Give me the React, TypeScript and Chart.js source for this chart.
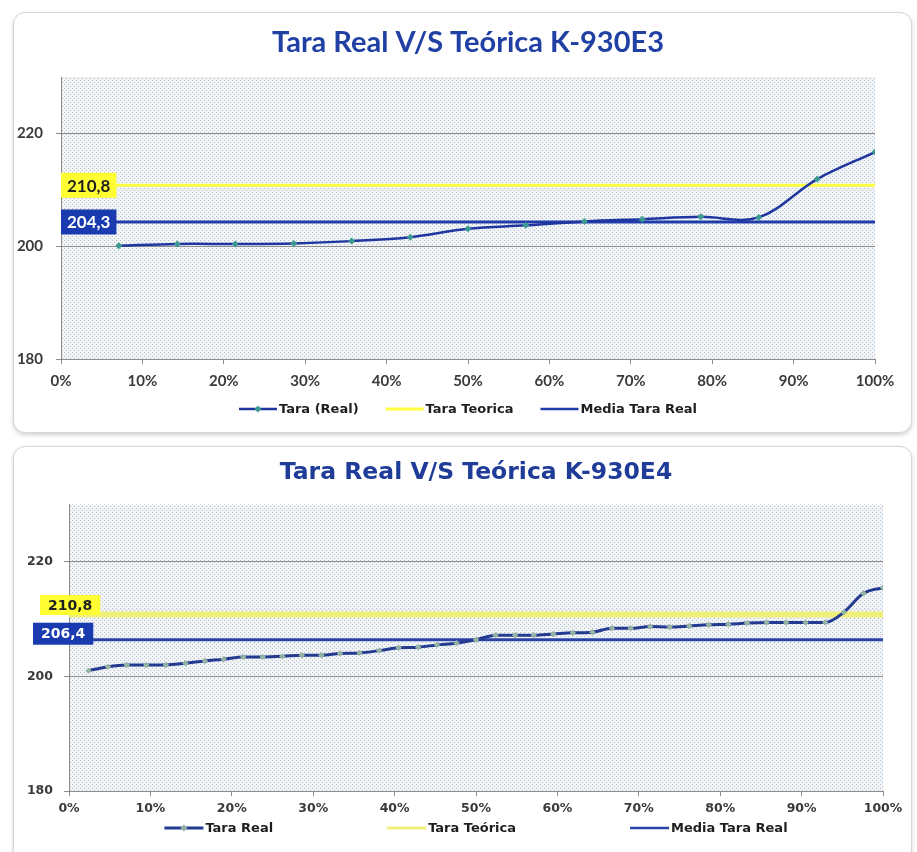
import React, { useEffect, useRef } from 'react';
import { Chart, registerables } from 'chart.js';

Chart.register(...registerables);

// ---------------- DATA ----------------
// K-930E3
const pctE3 = [7.1, 14.3, 21.4, 28.6, 35.7, 42.9, 50.0, 57.1, 64.3, 71.4, 78.6, 85.7, 92.9, 100];
const taraE3 = [200.1, 200.4, 200.4, 200.5, 200.9, 201.6, 203.1, 203.7, 204.4, 204.8, 205.2, 205.1, 211.9, 216.7];
const teoricaE3 = 210.8;
const mediaE3 = 204.3;

// K-930E4
const pctE4 = [
  2.4, 4.8, 7.1, 9.5, 11.9, 14.3, 16.7, 19.0, 21.4, 23.8, 26.2, 28.6, 31.0, 33.3,
  35.7, 38.1, 40.5, 42.9, 45.2, 47.6, 50.0, 52.4, 54.8, 57.1, 59.5, 61.9, 64.3, 66.7,
  69.0, 71.4, 73.8, 76.2, 78.6, 81.0, 83.3, 85.7, 88.1, 90.5, 92.9, 95.2, 97.6, 100,
];
const taraE4 = [
  201.0, 201.7, 202.0, 202.0, 202.0, 202.3, 202.7, 203.0, 203.4, 203.4, 203.5, 203.7, 203.7, 204.0,
  204.1, 204.5, 205.0, 205.1, 205.5, 205.8, 206.4, 207.2, 207.2, 207.2, 207.4, 207.6, 207.7, 208.4,
  208.4, 208.7, 208.6, 208.8, 209.0, 209.1, 209.3, 209.4, 209.4, 209.4, 209.4, 211.2, 214.5, 215.5,
];
const teoricaE4 = 210.8;
const mediaE4 = 206.4;

const xMin = 0;
const xMax = 100;
const xStep = 10;
const yMin = 180;
const yMax = 230;
const yTicks = [180, 200, 220];

const titleE3 = 'Tara Real V/S Teórica K-930E3';
const titleE4 = 'Tara Real V/S Teórica K-930E4';
const legendE3 = ['Tara (Real)', 'Tara Teorica', 'Media Tara Real'];
const legendE4 = ['Tara Real', 'Tara Teórica', 'Media Tara Real'];

// ---------------- PLUGINS ----------------
function makePattern(ctx: CanvasRenderingContext2D) {
  const c = document.createElement('canvas');
  c.width = 4;
  c.height = 4;
  const g = c.getContext('2d')!;
  g.fillStyle = '#f1f4f6';
  g.fillRect(0, 0, 4, 4);
  g.fillStyle = '#b4bfca';
  g.fillRect(0, 0, 1, 1);
  g.fillRect(2, 2, 1, 1);
  return ctx.createPattern(c, 'repeat');
}

const bgPlugin = {
  id: 'plotBg',
  beforeDraw(chart: any, _a: any, opts: any) {
    const { ctx, chartArea } = chart;
    if (!opts.pattern) return;
    ctx.save();
    ctx.fillStyle = opts.pattern;
    ctx.fillRect(chartArea.left, chartArea.top, chartArea.right - chartArea.left, chartArea.bottom - chartArea.top);
    ctx.restore();
  },
};

const valueBoxPlugin = {
  id: 'valueBox',
  afterDatasetsDraw(chart: any) {
    const ctx = chart.ctx;
    chart.data.datasets.forEach((ds: any, i: number) => {
      const b = ds.valueBox;
      if (!b) return;
      const p = chart.getDatasetMeta(i).data[0];
      if (!p) return;
      const text = ds.data[0].y.toFixed(1).replace('.', ',');
      ctx.save();
      ctx.font = b.font;
      const tw = ctx.measureText(text).width;
      const w = tw + b.padX * 2;
      const h = b.height;
      const x = p.x + b.dx;
      const y = p.y + b.dy - h / 2;
      ctx.fillStyle = b.bg;
      ctx.fillRect(x, y, w, h);
      ctx.fillStyle = b.color;
      ctx.textAlign = 'left';
      ctx.textBaseline = 'middle';
      ctx.fillText(text, x + b.padX, y + h / 2 + 1);
      ctx.restore();
    });
  },
};

const legendPlugin = {
  id: 'excelLegend',
  afterDraw(chart: any, _a: any, opts: any) {
    const { ctx, chartArea } = chart;
    ctx.save();
    ctx.font = opts.font;
    ctx.textBaseline = 'middle';
    ctx.textAlign = 'left';
    const items = chart.data.datasets.map((ds: any) => ({
      text: ds.label,
      color: ds.borderColor,
      width: ds.legendWidth ?? ds.borderWidth,
      marker: ds.pointRadius > 0 ? ds.pointBackgroundColor : null,
    }));
    const widths = items.map((it: any) => opts.sample + opts.textGap + ctx.measureText(it.text).width);
    const total = widths.reduce((a: number, b: number) => a + b, 0) + opts.gap * (items.length - 1);
    let x = (chartArea.left + chartArea.right) / 2 - total / 2;
    const y = chartArea.bottom + opts.offsetY;
    items.forEach((it: any, i: number) => {
      ctx.strokeStyle = it.color;
      ctx.lineWidth = it.width;
      ctx.beginPath();
      ctx.moveTo(x, y);
      ctx.lineTo(x + opts.sample, y);
      ctx.stroke();
      if (it.marker) {
        const cx = x + opts.sample / 2;
        const r = 3.5;
        ctx.fillStyle = it.marker;
        ctx.beginPath();
        ctx.moveTo(cx, y - r);
        ctx.lineTo(cx + r, y);
        ctx.lineTo(cx, y + r);
        ctx.lineTo(cx - r, y);
        ctx.closePath();
        ctx.fill();
      }
      ctx.fillStyle = opts.color;
      ctx.fillText(it.text, x + opts.sample + opts.textGap, y + 1);
      x += widths[i] + opts.gap;
    });
    ctx.restore();
  },
};

// ---------------- CHART ----------------
type Spec = {
  width: number;
  height: number;
  title: string;
  titleFont: any;
  titleColor: string;
  titlePad: { top: number; bottom: number };
  pct: number[];
  tara: number[];
  teorica: number;
  media: number;
  labels: string[];
  tickFont: any;
  tickColor: string;
  yAxisWidth: number;
  yTickPad: number;
  xAxisHeight: number;
  xTickPad: number;
  padRight: number;
  padBottom: number;
  realColor: string;
  realWidth: number;
  markerColor: string;
  markerRadius: number;
  tension: number;
  monotone: boolean;
  yellow: string;
  yellowWidth: number;
  blue: string;
  blueWidth: number;
  yellowBox: any;
  blueBox: any;
  legend: any;
};

function TaraChart({ spec, left, top }: { spec: Spec; left: number; top: number }) {
  const ref = useRef<HTMLCanvasElement>(null);
  useEffect(() => {
    const canvas = ref.current!;
    const ctx = canvas.getContext('2d')!;
    const pattern = makePattern(ctx);
    const chart = new Chart(canvas, {
      type: 'line',
      data: {
        datasets: [
          {
            label: spec.labels[0],
            data: spec.pct.map((x, i) => ({ x, y: spec.tara[i] })),
            borderColor: spec.realColor,
            borderWidth: spec.realWidth,
            pointStyle: 'rectRot',
            pointRadius: spec.markerRadius,
            pointBackgroundColor: spec.markerColor,
            pointBorderColor: spec.markerColor,
            pointBorderWidth: 0,
            tension: spec.tension,
            cubicInterpolationMode: spec.monotone ? 'monotone' : 'default',
            fill: false,
          },
          {
            label: spec.labels[1],
            data: [
              { x: xMin, y: spec.teorica },
              { x: xMax, y: spec.teorica },
            ],
            borderColor: spec.yellow,
            borderWidth: spec.yellowWidth,
            legendWidth: 3,
            pointRadius: 0,
            fill: false,
            valueBox: spec.yellowBox,
          } as any,
          {
            label: spec.labels[2],
            data: [
              { x: xMin, y: spec.media },
              { x: xMax, y: spec.media },
            ],
            borderColor: spec.blue,
            borderWidth: spec.blueWidth,
            legendWidth: 2.5,
            pointRadius: 0,
            fill: false,
            valueBox: spec.blueBox,
          } as any,
        ],
      },
      options: {
        responsive: false,
        maintainAspectRatio: false,
        animation: false,
        devicePixelRatio: 1,
        layout: { padding: { left: 0, top: 0, right: spec.padRight, bottom: spec.padBottom } },
        scales: {
          x: {
            type: 'linear',
            min: xMin,
            max: xMax,
            afterFit: (s: any) => {
              s.height = spec.xAxisHeight;
            },
            ticks: {
              stepSize: xStep,
              autoSkip: false,
              maxRotation: 0,
              padding: spec.xTickPad,
              color: spec.tickColor,
              font: spec.tickFont,
              callback: (v: any) => `${v}%`,
            },
            grid: { drawOnChartArea: false, drawTicks: true, tickLength: 5, color: '#8c8c8c' },
            border: { display: true, color: '#8c8c8c', width: 1 },
          },
          y: {
            type: 'linear',
            min: yMin,
            max: yMax,
            afterFit: (s: any) => {
              s.width = spec.yAxisWidth;
            },
            afterBuildTicks: (s: any) => {
              s.ticks = yTicks.map((v) => ({ value: v }));
            },
            ticks: {
              padding: spec.yTickPad,
              color: spec.tickColor,
              font: spec.tickFont,
              callback: (v: any) => `${v}`,
            },
            grid: { color: '#8c8c8c', lineWidth: 1, drawTicks: true, tickLength: 5 },
            border: { display: true, color: '#8c8c8c', width: 1 },
          },
        },
        plugins: {
          legend: { display: false },
          tooltip: { enabled: false },
          title: {
            display: true,
            text: spec.title,
            fullSize: false,
            color: spec.titleColor,
            font: spec.titleFont,
            padding: spec.titlePad,
          },
          plotBg: { pattern },
          excelLegend: spec.legend,
        } as any,
      },
      plugins: [bgPlugin, valueBoxPlugin, legendPlugin],
    });
    return () => chart.destroy();
  }, [spec]);
  return (
    <canvas
      ref={ref}
      width={spec.width}
      height={spec.height}
      style={{ position: 'absolute', left, top, width: spec.width, height: spec.height }}
    />
  );
}

const specE3: Spec = {
  width: 917,
  height: 440,
  title: titleE3,
  titleFont: { family: 'Lato', size: 29, weight: 'bold', lineHeight: 1 },
  titleColor: '#2041a3',
  titlePad: { top: 28, bottom: 20 },
  pct: pctE3,
  tara: taraE3,
  teorica: teoricaE3,
  media: mediaE3,
  labels: legendE3,
  tickFont: { family: 'Lato', size: 15, weight: 'bold' },
  tickColor: '#3a3a3a',
  yAxisWidth: 61,
  yTickPad: 13,
  xAxisHeight: 36,
  xTickPad: 8,
  padRight: 42,
  padBottom: 45,
  realColor: '#1f35a0',
  realWidth: 2.5,
  markerColor: '#3a9a92',
  markerRadius: 3.5,
  tension: 0.35,
  monotone: false,
  yellow: '#ffff40',
  yellowWidth: 3,
  blue: '#1f3caa',
  blueWidth: 3,
  yellowBox: { font: 'bold 17px Lato', bg: '#ffff33', color: '#1e1e1e', padX: 6, height: 25, dx: 0, dy: 0 },
  blueBox: { font: 'bold 17px Lato', bg: '#1a3bb0', color: '#ffffff', padX: 6, height: 25, dx: 0, dy: 0 },
  legend: { font: 'bold 13px "DejaVu Sans"', color: '#1e1e1e', sample: 38, textGap: 2, gap: 27, offsetY: 50 },
};

const specE4: Spec = {
  width: 917,
  height: 412,
  title: titleE4,
  titleFont: { family: 'DejaVu Sans', size: 23.5, weight: 'bold', lineHeight: 1 },
  titleColor: '#1f3c99',
  titlePad: { top: 21, bottom: 20 },
  pct: pctE4,
  tara: taraE4,
  teorica: teoricaE4,
  media: mediaE4,
  labels: legendE4,
  tickFont: { family: 'DejaVu Sans', size: 12.5, weight: 'bold' },
  tickColor: '#3a3a3a',
  yAxisWidth: 69,
  yTickPad: 11,
  xAxisHeight: 28,
  xTickPad: 5,
  padRight: 34,
  padBottom: 33,
  realColor: '#223a90',
  realWidth: 3,
  markerColor: '#95b3a3',
  markerRadius: 3.2,
  tension: 0.3,
  monotone: true,
  yellow: 'rgba(240,240,100,0.85)',
  yellowWidth: 6,
  blue: '#2a44a8',
  blueWidth: 3,
  yellowBox: { font: 'bold 14px "DejaVu Sans"', bg: '#ffff33', color: '#1e1e1e', padX: 8, height: 20, dx: -29, dy: -9.5 },
  blueBox: { font: 'bold 14px "DejaVu Sans"', bg: '#1a3bb0', color: '#ffffff', padX: 8, height: 22, dx: -36, dy: -6 },
  legend: { font: 'bold 13px "DejaVu Sans"', color: '#1e1e1e', sample: 39, textGap: 2, gap: 114, offsetY: 37 },
};

export default function App() {
  const card: React.CSSProperties = {
    position: 'absolute',
    left: 13,
    width: 899,
    border: '1.5px solid #d6d6d6',
    borderRadius: 12,
    boxShadow: '0 2px 4px rgba(0,0,0,0.18)',
    background: '#ffffff',
    boxSizing: 'border-box',
  };
  return (
    <div
      style={{
        position: 'absolute',
        left: 0,
        top: 0,
        width: 917,
        height: 852,
        overflow: 'hidden',
        background: '#ffffff',
      }}
    >
      <div style={{ ...card, top: 12, height: 421 }} />
      <div style={{ ...card, top: 446, height: 420 }} />
      <TaraChart spec={specE3} left={0} top={0} />
      <TaraChart spec={specE4} left={0} top={440} />
    </div>
  );
}
